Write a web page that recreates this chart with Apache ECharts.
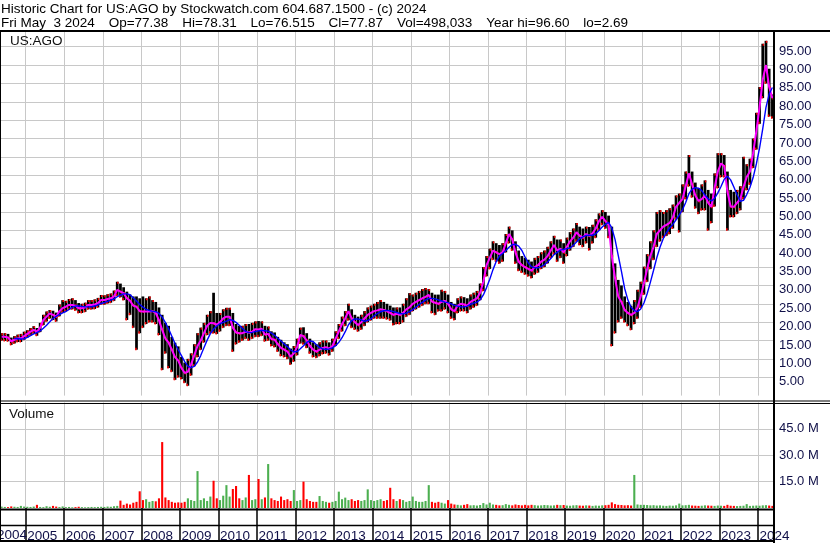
<!DOCTYPE html>
<html>
<head>
<meta charset="utf-8">
<script src="https://cdn.jsdelivr.net/npm/echarts@6/dist/echarts.min.js"></script>
<style>
  html, body { margin: 0; padding: 0; background: #fff; }
  #chart { width: 830px; height: 543px; }
</style>
</head>
<body>
<div id="chart"></div>
<script>
// monthly bars, May 2004 .. May 2024
const startYear = 2004, startMonth = 5;

const cl = [
  16.0, 16.0, 15.8, 14.8, 15.2, 15.6, 15.6, 16.2,                       // 2004
  16.8, 17.4, 17.9, 17.4, 18.5, 20.6, 21.5, 22.4, 22.0, 21.5, 23.0, 23.8, // 2005
  24.2, 24.7, 24.7, 24.5, 23.8, 23.8, 24.0, 24.7, 24.7, 24.8, 25.2, 26.0, // 2006
  26.0, 26.3, 26.5, 27.0, 28.8, 28.3, 27.9, 26.5, 25.8, 24.5, 24.2, 23.0, // 2007
  22.9, 22.9, 22.9, 23.0, 22.5, 20.5, 17.9, 15.5, 14.4, 12.5, 10.5, 9.5,  // 2008
  7.5, 6.2, 6.5, 8.5, 11.0, 13.5, 15.0, 17.0, 19.0, 19.8, 19.7, 19.3,     // 2009
  20.0, 21.0, 21.5, 21.5, 18.5, 17.2, 17.0, 17.0, 17.4, 17.2, 17.4, 18.1, // 2010
  18.0, 18.2, 16.6, 16.8, 15.4, 15.2, 14.0, 13.0, 12.5, 12.0, 10.6, 11.5, // 2011
  13.2, 16.5, 16.2, 15.0, 13.5, 12.5, 12.0, 12.5, 13.0, 13.2, 12.8, 13.5, // 2012
  15.5, 17.5, 19.5, 21.0, 23.0, 21.0, 20.0, 19.2, 20.0, 21.0, 22.0, 22.5, // 2013
  23.0, 23.2, 23.5, 23.3, 23.0, 22.5, 22.0, 22.3, 22.0, 22.5, 23.5, 24.0, // 2014
  25.0, 25.5, 26.0, 26.5, 26.9, 27.4, 25.6, 25.3, 25.0, 25.5, 25.8, 25.0, // 2015
  23.5, 23.0, 24.5, 25.0, 24.8, 24.5, 25.5, 26.0, 26.5, 28.0, 31.0, 35.5, // 2016
  37.5, 39.5, 39.0, 38.5, 39.0, 41.5, 44.0, 42.5, 39.0, 36.5, 35.5, 35.0, // 2017
  34.5, 34.0, 35.0, 35.5, 36.5, 37.0, 38.0, 39.5, 41.0, 39.5, 40.0, 39.0, // 2018
  40.5, 42.0, 43.0, 44.5, 43.5, 43.0, 44.0, 43.5, 44.2, 45.5, 47.5, 48.7, // 2019
  47.5, 46.5, 38.0, 32.0, 27.0, 25.5, 23.3, 22.5, 22.0, 22.5, 24.0, 27.0, // 2020
  30.6, 34.5, 38.0, 40.5, 44.0, 45.0, 46.0, 46.5, 47.0, 48.5, 51.4, 52.5, // 2021
  53.5, 57.0, 60.5, 57.5, 54.5, 53.0, 53.5, 54.5, 52.5, 51.4, 56.5, 61.0, // 2022
  63.2, 62.5, 55.5, 51.5, 51.4, 52.5, 53.5, 56.8, 59.5, 61.0, 66.0, 72.0, // 2023
  78.5, 86.0, 90.0, 84.0, 81.0                                            // 2024
];

const hi = [
  17.0, 17.0, 16.8, 15.8, 16.2, 16.6, 16.8, 17.4,
  17.8, 18.4, 18.9, 18.4, 19.8, 22.0, 22.9, 23.3, 23.1, 22.6, 24.8, 26.0,
  25.8, 26.3, 26.5, 26.0, 25.2, 25.0, 25.3, 26.0, 26.0, 26.2, 26.6, 27.4,
  27.3, 27.6, 27.8, 28.6, 31.0, 30.5, 29.5, 28.3, 27.5, 27.0, 27.0, 26.5,
  27.0, 26.5, 27.0, 26.0, 25.5, 24.0, 22.0, 19.8, 19.0, 16.0, 14.4, 13.4,
  10.5, 9.0, 10.0, 11.5, 14.0, 17.0, 18.5, 19.8, 22.0, 23.0, 28.0, 22.5,
  22.5, 23.5, 23.9, 23.9, 22.5, 19.5, 19.0, 19.0, 19.5, 19.5, 19.8, 20.2,
  20.3, 20.2, 19.0, 18.8, 17.5, 17.2, 16.0, 15.2, 14.5, 14.0, 12.8, 13.5,
  15.5, 18.5, 18.6, 17.0, 15.5, 14.5, 14.0, 14.5, 15.0, 15.0, 14.5, 15.5,
  17.5, 19.5, 21.5, 23.0, 25.0, 23.5, 22.0, 21.5, 22.0, 23.0, 24.0, 24.5,
  25.0, 25.5, 26.0, 25.5, 25.0, 24.5, 24.0, 24.0, 24.0, 25.0, 26.5, 27.9,
  27.5, 28.0, 28.5, 29.0, 29.3, 29.0, 28.0, 27.5, 27.5, 28.8, 28.5, 27.5,
  25.5, 25.0, 26.5, 27.0, 26.8, 26.5, 27.5, 28.0, 28.5, 30.5, 35.0, 38.0,
  40.0, 42.0, 41.5, 41.0, 41.5, 44.0, 46.0, 45.0, 42.0, 39.5, 38.0, 37.5,
  37.0, 36.5, 37.5, 38.0, 39.0, 39.5, 40.5, 42.0, 43.5, 42.5, 42.5, 41.5,
  43.0, 44.5, 45.5, 47.0, 46.0, 45.5, 46.0, 45.9, 46.5, 48.0, 49.6, 50.5,
  50.0, 49.0, 46.0, 36.0, 31.5, 30.0, 27.0, 25.5, 24.5, 26.0, 28.8, 31.0,
  35.1, 38.5, 42.0, 45.0, 50.0, 50.5, 50.0, 50.5, 51.0, 52.0, 54.5, 55.0,
  57.5, 61.0, 65.5, 61.0, 58.0, 56.5, 57.5, 58.6, 56.0, 55.0, 60.5, 66.0,
  66.0, 65.5, 61.0, 56.0, 55.5, 56.0, 57.0, 65.0, 63.0, 64.5, 70.0, 77.0,
  84.0, 95.8, 96.6, 89.0, 82.0
];

const lo = [
  15.0, 14.9, 14.8, 13.8, 14.2, 14.6, 14.6, 15.2,
  15.8, 16.4, 16.9, 16.3, 17.3, 19.2, 20.2, 21.0, 20.6, 20.2, 21.6, 22.6,
  22.9, 23.4, 23.5, 23.2, 22.5, 22.5, 22.8, 23.5, 23.5, 23.6, 24.0, 24.8,
  24.8, 25.1, 25.3, 25.8, 27.2, 26.8, 26.0, 20.6, 22.0, 18.5, 12.5, 17.0,
  18.5, 19.5, 20.0, 20.0, 19.5, 16.5, 7.0, 11.5, 7.5, 6.5, 4.3, 5.0,
  4.5, 3.5, 2.69, 5.5, 8.0, 10.5, 12.5, 14.5, 16.5, 17.0, 17.0, 16.8,
  17.5, 18.5, 19.0, 19.0, 12.0, 14.0, 14.5, 15.0, 15.5, 15.0, 15.5, 16.0,
  16.0, 16.3, 14.8, 15.0, 13.5, 13.2, 12.0, 10.8, 10.5, 10.0, 8.5, 9.3,
  11.0, 14.2, 14.0, 13.0, 11.5, 10.5, 10.3, 10.8, 11.3, 11.5, 11.0, 12.0,
  13.5, 15.5, 17.5, 19.0, 20.5, 18.5, 18.0, 17.5, 18.0, 19.0, 20.0, 20.5,
  21.0, 21.0, 21.0, 21.0, 20.8, 20.5, 19.2, 19.5, 19.5, 20.0, 21.5, 22.0,
  23.0, 23.5, 24.0, 24.5, 25.0, 25.0, 22.5, 22.0, 23.0, 23.0, 23.5, 22.5,
  21.0, 20.6, 22.5, 23.0, 23.0, 22.5, 23.5, 24.0, 24.5, 26.0, 28.5, 32.5,
  34.5, 37.0, 36.5, 36.0, 36.5, 39.0, 41.5, 39.5, 36.0, 34.0, 33.5, 33.0,
  32.5, 32.0, 33.0, 33.5, 34.5, 35.0, 36.0, 37.5, 38.5, 36.5, 37.5, 36.0,
  38.0, 39.5, 40.5, 42.0, 41.0, 40.5, 41.5, 39.6, 41.5, 43.0, 45.0, 46.5,
  45.5, 43.0, 13.5, 17.0, 20.0, 21.0, 20.0, 19.0, 17.9, 19.5, 21.0, 24.0,
  27.5, 31.0, 34.5, 37.0, 40.5, 42.0, 43.0, 43.5, 44.0, 45.5, 48.0, 44.5,
  50.0, 53.5, 57.0, 54.0, 51.0, 49.5, 50.5, 50.5, 45.0, 47.0, 51.5, 56.5,
  59.5, 59.5, 45.0, 48.6, 48.6, 49.5, 50.5, 53.5, 56.0, 57.5, 62.0, 67.0,
  74.0, 81.0, 85.0, 76.0, 75.5
];

// volume, millions of shares
const vol = [
  0.8, 0.6, 0.5, 0.9, 0.7, 0.6, 1.2, 0.8,
  0.7, 0.6, 0.8, 1.8, 0.6, 0.5, 1.0, 0.7, 1.2, 0.8, 0.6, 0.9,
  0.5, 0.6, 0.4, 0.5, 0.7, 0.5, 0.4, 0.5, 0.6, 0.5, 0.6, 0.7,
  0.6, 0.8, 0.7, 1.0, 1.2, 4.2, 1.8, 2.5, 2.0, 3.0, 3.5, 9.5,
  4.5, 5.0, 3.5, 4.0, 3.8, 5.5, 37.5, 6.0, 4.5, 3.5, 3.0, 3.2,
  3.0, 3.5, 5.5, 4.5, 4.0, 21.0, 4.5, 5.5, 4.0, 6.5, 15.5, 5.5,
  4.5, 7.0, 13.0, 6.5, 10.8, 12.5, 5.5, 4.5, 6.0, 18.8, 4.5, 5.0,
  16.5, 5.0, 6.0, 25.0, 5.5, 4.5, 4.0, 6.5, 4.5, 5.0, 4.0, 10.2,
  4.0, 4.5, 15.0, 5.0, 4.0, 3.5, 3.5, 6.8, 4.0, 3.5, 3.0, 3.5,
  4.0, 9.3, 5.0, 5.9, 4.5, 5.0, 4.0, 4.5, 4.0, 4.5, 10.6, 4.5,
  4.0, 4.5, 5.0, 4.0, 4.5, 11.5, 5.0, 4.0, 5.0, 4.5, 3.5, 4.0,
  6.5, 4.0, 3.5, 3.5, 4.0, 13.0, 3.5, 3.0, 3.5, 3.0, 2.5, 4.5,
  2.5, 2.0, 1.8, 1.5, 1.8, 2.2, 1.5, 1.6, 1.4, 1.7, 2.8, 2.0,
  3.0, 2.0, 1.8, 1.5, 1.6, 2.2, 1.8, 1.5, 2.0, 1.7, 1.5, 1.8,
  1.5, 1.8, 1.6, 1.4, 1.5, 1.7, 1.6, 1.4, 1.5, 1.8, 1.6, 1.7,
  1.4, 1.3, 1.5, 1.6, 1.4, 1.3, 1.5, 1.4, 1.2, 1.4, 1.3, 1.5,
  1.6, 1.8, 3.2, 2.2, 1.8, 1.7, 1.5, 1.6, 1.4, 18.8, 2.0, 1.8,
  1.8, 1.7, 1.5, 1.6, 1.4, 1.5, 1.3, 1.2, 1.4, 1.3, 1.5, 2.5,
  1.5, 1.6, 1.8, 1.4, 1.3, 1.2, 1.3, 1.5, 1.4, 1.3, 1.2, 1.4,
  1.3, 1.2, 1.8, 1.3, 1.2, 1.1, 1.2, 1.3, 2.2, 1.2, 1.3, 1.4,
  1.3, 1.5, 1.6, 1.4, 1.2
];

const priceTicks = { min: 0, max: 99, step: 5 };
const volTicks = { min: 0, max: 60, step: 15 };

const header1 = 'Historic Chart for US:AGO by Stockwatch.com 604.687.1500 - (c) 2024';
const header2 = ['Fri May  3 2024', 'Op=77.38', 'Hi=78.31', 'Lo=76.515', 'Cl=77.87', 'Vol=498,033', 'Year hi=96.60', 'lo=2.69'];

// month categories
const months = [];
for (let k = 0; k < cl.length; k++) {
  const t = startYear * 12 + startMonth - 1 + k;
  months.push(Math.floor(t / 12) + '-' + String(t % 12 + 1).padStart(2, '0'));
}
const isJan = (idx, val) => val.endsWith('-01');

// 5 month moving average of the closes (blue line)
const ma = cl.map((v, i) => i < 4 ? '-' : +(cl.slice(i - 4, i + 1).reduce((a, b) => a + b, 0) / 5).toFixed(2));
const down = cl.map((v, i) => i > 0 && v < cl[i - 1]);

const FONT = "'Liberation Sans', Arial, sans-serif";
const HFONT = '13.5px ' + FONT;
const LABEL = '#101048';
const GRID = '#c8c8c8';

// spread the second header line evenly between x=1 and x=628
const ctx = document.createElement('canvas').getContext('2d');
ctx.font = HFONT;
const widths = header2.map(s => ctx.measureText(s).width);
const gap = (627 - widths.reduce((a, b) => a + b, 0)) / (header2.length - 1);
let hx = 1;
const header2Items = header2.map((s, i) => { const x = hx; hx += widths[i] + gap; return [s, x]; });

const chart = echarts.init(document.getElementById('chart'));

const hline = (y, x1, x2, w) => ({ type: 'line', shape: { x1, y1: y, x2, y2: y }, style: { stroke: '#000', lineWidth: w }, z: 100 });
const vline = (x, y1, y2, w) => ({ type: 'line', shape: { x1: x, y1, x2: x, y2 }, style: { stroke: '#000', lineWidth: w }, z: 100 });
const text = (s, x, y, fill) => ({ type: 'text', x, y, style: { text: s, font: HFONT, fill: fill || '#000' }, z: 101 });

chart.setOption({
  animation: false,
  backgroundColor: '#fff',
  textStyle: { fontFamily: FONT },
  grid: [
    { left: 0, right: 56, top: 32, height: 363.6 },
    { left: 0, right: 56, top: 402.5, height: 105.5 }
  ],
  xAxis: [
    {
      type: 'category', gridIndex: 0, data: months, boundaryGap: true,
      axisLine: { show: false }, axisTick: { show: false }, axisLabel: { show: false },
      splitLine: { show: true, interval: isJan, lineStyle: { color: GRID, width: 1 } }
    },
    {
      type: 'category', gridIndex: 1, data: months, boundaryGap: true,
      axisLine: { show: false },
      axisTick: { show: true, interval: isJan, length: 33, lineStyle: { color: '#000', width: 1.5 } },
      axisLabel: {
        show: true, interval: isJan, hideOverlap: false,
        formatter: v => v.slice(0, 4), align: 'left', margin: 21,
        color: LABEL, fontSize: 13.5, fontFamily: FONT
      },
      splitLine: { show: true, interval: isJan, lineStyle: { color: GRID, width: 1 } }
    }
  ],
  yAxis: [
    {
      type: 'value', gridIndex: 0, position: 'right',
      min: priceTicks.min, max: priceTicks.max, interval: priceTicks.step,
      axisLine: { show: false }, axisTick: { show: false },
      axisLabel: {
        margin: 5, color: LABEL, fontSize: 13, fontFamily: FONT,
        verticalAlign: 'top', lineHeight: 9,
        formatter: v => (v <= 0 || v % 5 !== 0) ? '' : v.toFixed(2)
      },
      splitLine: { show: true, showMinLine: false, showMaxLine: false, lineStyle: { color: GRID, width: 1 } }
    },
    {
      type: 'value', gridIndex: 1, position: 'right',
      min: volTicks.min, max: volTicks.max, interval: volTicks.step,
      axisLine: { show: false }, axisTick: { show: false },
      axisLabel: {
        margin: 5, color: LABEL, fontSize: 13, fontFamily: FONT,
        formatter: v => (v <= 0 || v >= volTicks.max) ? '' : v.toFixed(1) + ' M'
      },
      splitLine: { show: true, showMinLine: false, showMaxLine: false, lineStyle: { color: GRID, width: 1 } }
    }
  ],
  series: [
    {
      type: 'custom', xAxisIndex: 0, yAxisIndex: 0, z: 2,
      data: cl.map((c, i) => [i, hi[i], lo[i], c, down[i] ? 1 : 0]),
      renderItem(params, api) {
        const i = api.value(0);
        const top = api.coord([i, api.value(1)]);
        const bot = api.coord([i, api.value(2)]);
        const cp = api.coord([i, api.value(3)]);
        const bw = api.size([1, 0])[0];
        const w = bw * 0.85;
        const children = [{
          type: 'rect',
          shape: { x: top[0] - w / 2, y: top[1], width: w, height: Math.max(1, bot[1] - top[1]) },
          style: { fill: '#000' }
        }, {
          type: 'rect',
          shape: { x: top[0] - w / 2, y: bot[1] - 2, width: 1.5, height: 2.5 },
          style: { fill: '#ff0000' }
        }];
        if (api.value(4)) {
          children.push({
            type: 'rect',
            shape: { x: top[0] + w / 2 - 1.5, y: cp[1] - 1, width: 1.5, height: 2.5 },
            style: { fill: '#ff0000' }
          });
        } else {
          children.push({
            type: 'rect',
            shape: { x: top[0] + w / 2 - 1.5, y: top[1], width: 1.5, height: 2 },
            style: { fill: '#ff0000' }
          });
        }
        return { type: 'group', children };
      }
    },
    {
      type: 'line', xAxisIndex: 0, yAxisIndex: 0, data: ma, z: 4,
      symbol: 'none', lineStyle: { color: '#0000ff', width: 1.4 }
    },
    {
      type: 'line', xAxisIndex: 0, yAxisIndex: 0, data: cl, z: 3,
      symbol: 'none', lineStyle: { color: '#ff00ff', width: 2 }
    },
    {
      type: 'bar', xAxisIndex: 1, yAxisIndex: 1, data: vol, barWidth: '65%',
      itemStyle: { color: p => down[p.dataIndex] ? '#ff0000' : '#4caf50' }
    }
  ],
  graphic: [
    text(header1, 1, 2),
    ...header2Items.map(([s, x]) => text(s, x, 16)),
    text('US:AGO', 10, 34, '#111'),
    text('Volume', 9, 407, '#111'),
    { type: 'text', x: -3, y: 528, style: { text: months[0].slice(0, 4), font: HFONT, fill: LABEL }, z: 99 },
    hline(31, 0, 830, 2),
    hline(401, 0, 830, 1),
    hline(403.5, 0, 830, 1),
    hline(509.5, 0, 774, 2),
    hline(525.5, 0, 774, 1.5),
    hline(541, 0, 774, 2),
    vline(0.5, 31, 541, 1),
    vline(774, 31, 543, 2)
  ]
});
</script>
</body>
</html>
